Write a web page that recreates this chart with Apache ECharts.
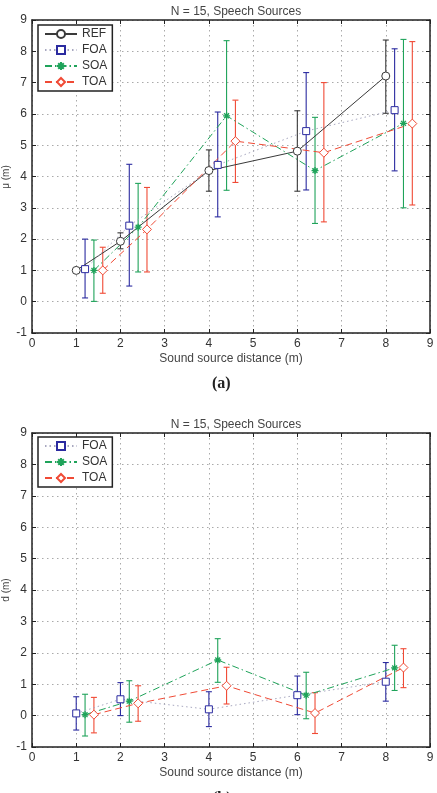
<!DOCTYPE html>
<html lang="en">
<head>
<meta charset="UTF-8">
<title>N = 15, Speech Sources</title>
<style>
  html, body { margin: 0; padding: 0; background: #fff; }
  #chart { width: 437px; height: 793px; }
</style>
</head>
<body>
<div id="chart"></div>
<script src="https://cdn.jsdelivr.net/npm/echarts@6/dist/echarts.min.js"></script>
<script>
// source distances (m)
var distances = [1, 2, 4, 6, 8]
var xTicks = [0, 1, 2, 3, 4, 5, 6, 7, 8, 9]

// (a) mean estimate mu (m), with error bar ends
var refMu = [1.0, 1.93, 4.19, 4.81, 7.21]
var refHi = [1.0, 2.2, 4.85, 6.1, 8.36]
var refLo = [1.0, 1.69, 3.53, 3.53, 6.02]
var foaMu = [1.04, 2.43, 4.37, 5.45, 6.12]
var foaMuHi = [2.0, 4.39, 6.06, 7.32, 8.08]
var foaMuLo = [0.12, 0.5, 2.71, 3.57, 4.18]
var soaMu = [1.0, 2.38, 5.94, 4.19, 5.7]
var soaMuHi = [1.97, 3.78, 8.34, 5.89, 8.38]
var soaMuLo = [0.01, 0.95, 3.56, 2.5, 3.0]
var toaMu = [1.0, 2.31, 5.13, 4.76, 5.69]
var toaMuHi = [1.74, 3.65, 6.44, 7.0, 8.31]
var toaMuLo = [0.27, 0.95, 3.81, 2.55, 3.09]

// (b) d (m)
var foaD = [0.07, 0.52, 0.2, 0.65, 1.08]
var foaDHi = [0.6, 1.05, 0.76, 1.26, 1.69]
var foaDLo = [-0.46, 0, -0.35, 0.03, 0.46]
var soaD = [0.03, 0.46, 1.77, 0.65, 1.52]
var soaDHi = [0.68, 1.11, 2.45, 1.38, 2.24]
var soaDLo = [-0.65, -0.21, 1.06, -0.1, 0.8]
var toaD = [0.03, 0.39, 0.95, 0.08, 1.53]
var toaDHi = [0.58, 0.95, 1.54, 0.73, 2.13]
var toaDLo = [-0.55, -0.18, 0.37, -0.57, 0.89]

// small x shift of each method so bars don't overlap
var shiftTop = { REF: 0, FOA: 0.2, SOA: 0.4, TOA: 0.6 }
var shiftBottom = { FOA: 0, SOA: 0.2, TOA: 0.4 }

var FONT = "'Liberation Sans', Arial, sans-serif"
var colors = { REF: '#3a3a3a', FOA: '#2b2ba0', SOA: '#1fa35a', TOA: '#f04a35' }
var lineStyles = {
  REF: { color: '#3a3a3a', width: 1, type: 'solid' },
  FOA: { color: '#a8a8c0', width: 1, type: [1.5, 3] },
  SOA: { color: '#1fa35a', width: 1, type: [7, 3, 1.5, 3] },
  TOA: { color: '#f04a35', width: 1, type: [7, 4] }
}
var symbols = {
  REF: 'circle',
  FOA: 'rect',
  SOA: 'path://M5,0L5,10M0,5L10,5M1.5,1.5L8.5,8.5M8.5,1.5L1.5,8.5',
  TOA: 'diamond'
}
var symbolSizes = { REF: 8, FOA: 7, SOA: 7, TOA: 9 }

function pts(xs, ys, shift) {
  return xs.map(function (x, i) { return [x + shift, ys[i]] })
}
function bars(xs, lo, hi, shift) {
  return xs.map(function (x, i) { return [x + shift, lo[i], hi[i]] })
}

function errorSeries(name, data, gi) {
  return {
    type: 'custom',
    name: name + ' err',
    xAxisIndex: gi * 2,
    yAxisIndex: gi * 2,
    data: data,
    z: 2,
    silent: true,
    renderItem: function (params, api) {
      var lo = api.value(1), hi = api.value(2)
      if (lo === hi) return null
      var a = api.coord([api.value(0), lo])
      var b = api.coord([api.value(0), hi])
      var w = 3
      var st = { stroke: colors[name], lineWidth: 1.1 }
      return {
        type: 'group',
        children: [
          { type: 'line', shape: { x1: a[0], y1: a[1], x2: b[0], y2: b[1] }, style: st },
          { type: 'line', shape: { x1: a[0] - w, y1: a[1], x2: a[0] + w, y2: a[1] }, style: st },
          { type: 'line', shape: { x1: b[0] - w, y1: b[1], x2: b[0] + w, y2: b[1] }, style: st }
        ]
      }
    }
  }
}

function lineSeries(name, data, gi) {
  return {
    type: 'line',
    name: name,
    xAxisIndex: gi * 2,
    yAxisIndex: gi * 2,
    data: data,
    z: 3,
    symbol: symbols[name],
    symbolSize: symbolSizes[name],
    showAllSymbol: true,
    lineStyle: lineStyles[name],
    itemStyle: {
      color: name === 'SOA' ? colors[name] : '#fff',
      borderColor: colors[name],
      borderWidth: name === 'SOA' ? 1.3 : 1
    },
    emphasis: { disabled: true },
    animation: false
  }
}

var grids = [
  { left: 32, right: 7, top: 20, height: 313, outerBoundsMode: 'none', containLabel: false },
  { left: 32, right: 7, top: 433, height: 314, outerBoundsMode: 'none', containLabel: false }
]

function mkX(gi, top) {
  return {
    type: 'value', gridIndex: gi, min: 0, max: 9, interval: 1,
    position: top ? 'top' : 'bottom',
    name: top ? '' : 'Sound source distance (m)',
    nameLocation: 'middle', nameGap: 20,
    nameTextStyle: { fontFamily: FONT, fontSize: 12, color: '#444' },
    axisLine: { show: true, onZero: false, lineStyle: { color: '#222', width: 1.5 } },
    axisTick: { show: true, inside: true, length: 4, lineStyle: { color: '#222' } },
    axisLabel: { show: !top, margin: 5, fontFamily: FONT, fontSize: 12, color: '#333',
      formatter: function (v) { return xTicks.indexOf(v) >= 0 ? String(v) : '' } },
    splitLine: { show: !top, lineStyle: { type: [1.5, 3.5], color: '#aaa', width: 1 } }
  }
}
function mkY(gi, right) {
  return {
    type: 'value', gridIndex: gi, min: -1, max: 9, interval: 1,
    position: right ? 'right' : 'left',
    axisLine: { show: true, onZero: false, lineStyle: { color: '#222', width: 1.5 } },
    axisTick: { show: true, inside: true, length: 4, lineStyle: { color: '#222' } },
    axisLabel: { show: !right, margin: 5, fontFamily: FONT, fontSize: 12, color: '#333' },
    splitLine: { show: !right, lineStyle: { type: [1.5, 3.5], color: '#aaa', width: 1 } }
  }
}

var series = []
;['REF', 'FOA', 'SOA', 'TOA'].forEach(function (n) {
  var mu = { REF: refMu, FOA: foaMu, SOA: soaMu, TOA: toaMu }[n]
  var hi = { REF: refHi, FOA: foaMuHi, SOA: soaMuHi, TOA: toaMuHi }[n]
  var lo = { REF: refLo, FOA: foaMuLo, SOA: soaMuLo, TOA: toaMuLo }[n]
  series.push(errorSeries(n, bars(distances, lo, hi, shiftTop[n]), 0))
  series.push(lineSeries(n, pts(distances, mu, shiftTop[n]), 0))
})
;['FOA', 'SOA', 'TOA'].forEach(function (n) {
  var d = { FOA: foaD, SOA: soaD, TOA: toaD }[n]
  var hi = { FOA: foaDHi, SOA: soaDHi, TOA: toaDHi }[n]
  var lo = { FOA: foaDLo, SOA: soaDLo, TOA: toaDLo }[n]
  series.push(errorSeries(n, bars(distances, lo, hi, shiftBottom[n]), 1))
  series.push(lineSeries(n, pts(distances, d, shiftBottom[n]), 1))
})

function mkLegend(top, names) {
  return {
    orient: 'vertical', left: 38, top: top,
    data: names,
    itemWidth: 32, itemHeight: 10, itemGap: 4,
    padding: [3, 5, 3, 6],
    borderColor: '#222', borderWidth: 1.5,
    backgroundColor: '#fff',
    selectedMode: false,
    textStyle: { fontFamily: FONT, fontSize: 12, color: '#333' }
  }
}

function yName(text, cy) {
  return {
    type: 'text', x: 6, y: cy, rotation: Math.PI / 2,
    style: { text: text, font: "10px " + FONT, fill: '#444', textAlign: 'center', textVerticalAlign: 'middle' }
  }
}

var titleStyle = { fontFamily: FONT, fontSize: 12, fontWeight: 'normal', color: '#444' }

var myChart = echarts.init(document.getElementById('chart'))
myChart.setOption({
  animation: false,
  backgroundColor: '#fff',
  title: [
    { text: 'N = 15, Speech Sources', left: 231, top: 1, textAlign: 'center', textStyle: titleStyle },
    { text: 'N = 15, Speech Sources', left: 231, top: 414, textAlign: 'center', textStyle: titleStyle }
  ],
  legend: [mkLegend(25, ['REF', 'FOA', 'SOA', 'TOA']), mkLegend(437, ['FOA', 'SOA', 'TOA'])],
  grid: grids,
  xAxis: [mkX(0, false), mkX(0, true), mkX(1, false), mkX(1, true)],
  yAxis: [mkY(0, false), mkY(0, true), mkY(1, false), mkY(1, true)],
  series: series,
  graphic: [
    yName('μ (m)', 177),
    yName('d (m)', 590),
    { type: 'text', left: 212, top: 376, style: { text: '(a)', font: "bold 16px 'Liberation Serif', 'Times New Roman', serif", fill: '#222' } },
    { type: 'text', left: 212, top: 791, style: { text: '(b)', font: "bold 16px 'Liberation Serif', 'Times New Roman', serif", fill: '#222' } }
  ]
})
</script>
</body>
</html>
